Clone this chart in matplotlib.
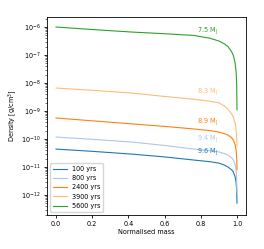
import numpy as np
import matplotlib
matplotlib.use('Agg')
import matplotlib.pyplot as plt

# normalised mass sample points
mass = [0.0, 0.2, 0.42, 0.6, 0.76, 0.85, 0.9, 0.93, 0.95, 0.97, 0.98, 0.99, 0.995, 0.998, 1.0]

# log10 density [g/cm^3]
logrho_100 = [-10.36, -10.44, -10.54, -10.64, -10.75, -10.81, -10.86, -10.93, -11.0, -11.1, -11.18, -11.36, -11.55, -11.8, -12.29]
logrho_800 = [-9.93, -10.01, -10.11, -10.23, -10.36, -10.42, -10.46, -10.52, -10.57, -10.67, -10.75, -10.93, -11.1, -11.4, -11.9]
logrho_2400 = [-9.25, -9.35, -9.46, -9.55, -9.64, -9.7, -9.75, -9.81, -9.86, -9.95, -10.04, -10.21, -10.4, -10.65, -11.1]
logrho_3900 = [-8.18, -8.26, -8.36, -8.48, -8.58, -8.65, -8.71, -8.82, -8.93, -9.1, -9.22, -9.45, -9.65, -9.9, -10.25]
logrho_5600 = [-6.0, -6.09, -6.18, -6.24, -6.3, -6.4, -6.5, -6.6, -6.7, -6.88, -7.02, -7.3, -7.6, -8.0, -8.96]

labels = ['100 yrs', '800 yrs', '2400 yrs', '3900 yrs', '5600 yrs']
masses = ['9.6 M$_\\mathrm{J}$', '9.4 M$_\\mathrm{J}$', '8.9 M$_\\mathrm{J}$',
          '8.3 M$_\\mathrm{J}$', '7.5 M$_\\mathrm{J}$']
label_y = [-10.68, -10.22, -9.6, -8.52, -6.34]
colors = ['#1f77b4', '#aec7e8', '#ff7f0e', '#ffbb78', '#2ca02c']

fs = 4.7
plt.rcParams['font.size'] = fs

fig = plt.figure(figsize=(2.64, 2.49), dpi=100)
ax = fig.add_axes([0.178, 0.137, 0.754, 0.795])

series = [logrho_100, logrho_800, logrho_2400, logrho_3900, logrho_5600]
for lg, lab, m, ly, c in zip(series, labels, masses, label_y, colors):
    ax.plot(mass, 10 ** np.array(lg), color=c, lw=0.8, label=lab)
    ax.text(0.78, 10 ** ly, m, color=c, fontsize=fs, ha='left', va='bottom')

ax.set_yscale('log')
ax.set_xlim(-0.05, 1.05)
ax.set_ylim(10 ** -12.71, 10 ** -5.64)
ax.set_xticks([0.0, 0.2, 0.4, 0.6, 0.8, 1.0])
ax.set_xlabel('Normalised mass', labelpad=1.5)
ax.set_ylabel('Density [g/cm$^3$]', labelpad=1.5)
ax.tick_params(labelsize=fs, length=2.5, width=0.6, pad=2)
ax.tick_params(which='minor', length=1.5, width=0.4)
for s in ax.spines.values():
    s.set_linewidth(0.6)
ax.legend(loc='lower left', fontsize=fs, handlelength=2.2, framealpha=0.8)

plt.savefig('out.png', dpi=100)
